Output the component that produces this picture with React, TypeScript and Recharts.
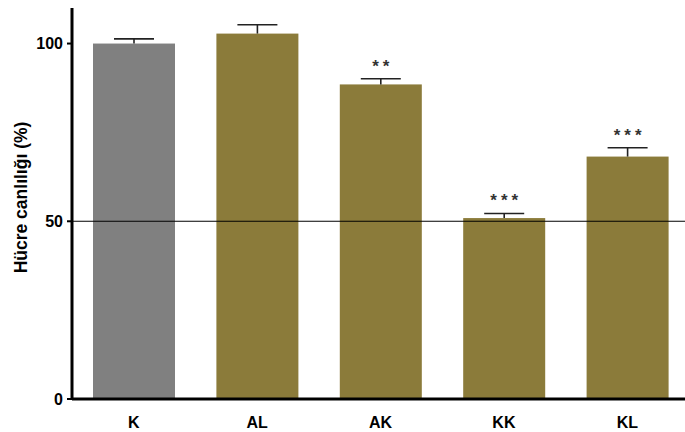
import { BarChart, Bar, XAxis, YAxis, ReferenceLine, Cell } from "recharts";

const categories = ["K", "AL", "AK", "KK", "KL"];
const viability = [100, 102.8, 88.5, 50.9, 68.2];
const sem = [1.3, 2.5, 1.6, 1.3, 2.5];
const stars = ["", "", "**", "***", "***"];
const yTicks = [0, 50, 100];

const data = categories.map((name, i) => ({
  name,
  value: viability[i],
  sem: sem[i],
  stars: stars[i],
}));

const FONT = "'Liberation Sans', Arial, sans-serif";

function BarWithError(props: any) {
  const { x, y, width, height, fill, payload } = props;
  const perUnit = height / payload.value;
  const top = y - payload.sem * perUnit;
  const cx = x + width / 2;
  return (
    <g>
      <rect x={x} y={y} width={width} height={height} fill={fill} />
      <line x1={cx} y1={y} x2={cx} y2={top} stroke="#222" strokeWidth={1.6} />
      <line x1={cx - 20} y1={top} x2={cx + 20} y2={top} stroke="#222" strokeWidth={1.6} />
      {payload.stars && (
        <text
          x={cx + 2}
          y={top - 7}
          textAnchor="middle"
          fontFamily={FONT}
          fontWeight="bold"
          fontSize={17}
          letterSpacing={4}
          fill="#333"
        >
          {payload.stars}
        </text>
      )}
    </g>
  );
}

function YLabel(props: any) {
  const { viewBox } = props;
  const x = viewBox.x + 21;
  const y = viewBox.y + viewBox.height / 2 - 6;
  return (
    <text
      x={x}
      y={y}
      transform={`rotate(-90, ${x}, ${y})`}
      textAnchor="middle"
      dominantBaseline="central"
      fontFamily={FONT}
      fontWeight="bold"
      fontSize={17.5}
      fill="#000"
    >
      Hücre canlılığı (%)
    </text>
  );
}

export default function App() {
  return (
    <div style={{ position: "absolute", left: 0, top: 0, width: 685, height: 432, overflow: "hidden", background: "#fff" }}>
      <BarChart width={689} height={432} data={data} margin={{ top: 8, right: 0, bottom: 0, left: 0 }}>
        <XAxis
          dataKey="name"
          height={33}
          tickLine={false}
          tickMargin={12}
          axisLine={{ stroke: "#000", strokeWidth: 3 }}
          tick={{ fill: "#000", fontFamily: FONT, fontWeight: "bold", fontSize: 16 }}
        />
        <YAxis
          width={72}
          domain={[0, 110]}
          ticks={yTicks}
          tickSize={5}
          tickMargin={4}
          axisLine={{ stroke: "#000", strokeWidth: 3 }}
          tickLine={{ stroke: "#000", strokeWidth: 2 }}
          tick={{ fill: "#000", fontFamily: FONT, fontWeight: "bold", fontSize: 16 }}
          label={<YLabel />}
        />
        <Bar dataKey="value" barSize={82} isAnimationActive={false} shape={<BarWithError />}>
          {data.map((d, i) => (
            <Cell key={d.name} fill={i === 0 ? "#808080" : "#8b7b3a"} />
          ))}
        </Bar>
        <ReferenceLine y={50} stroke="#000" strokeWidth={1.2} />
      </BarChart>
    </div>
  );
}
